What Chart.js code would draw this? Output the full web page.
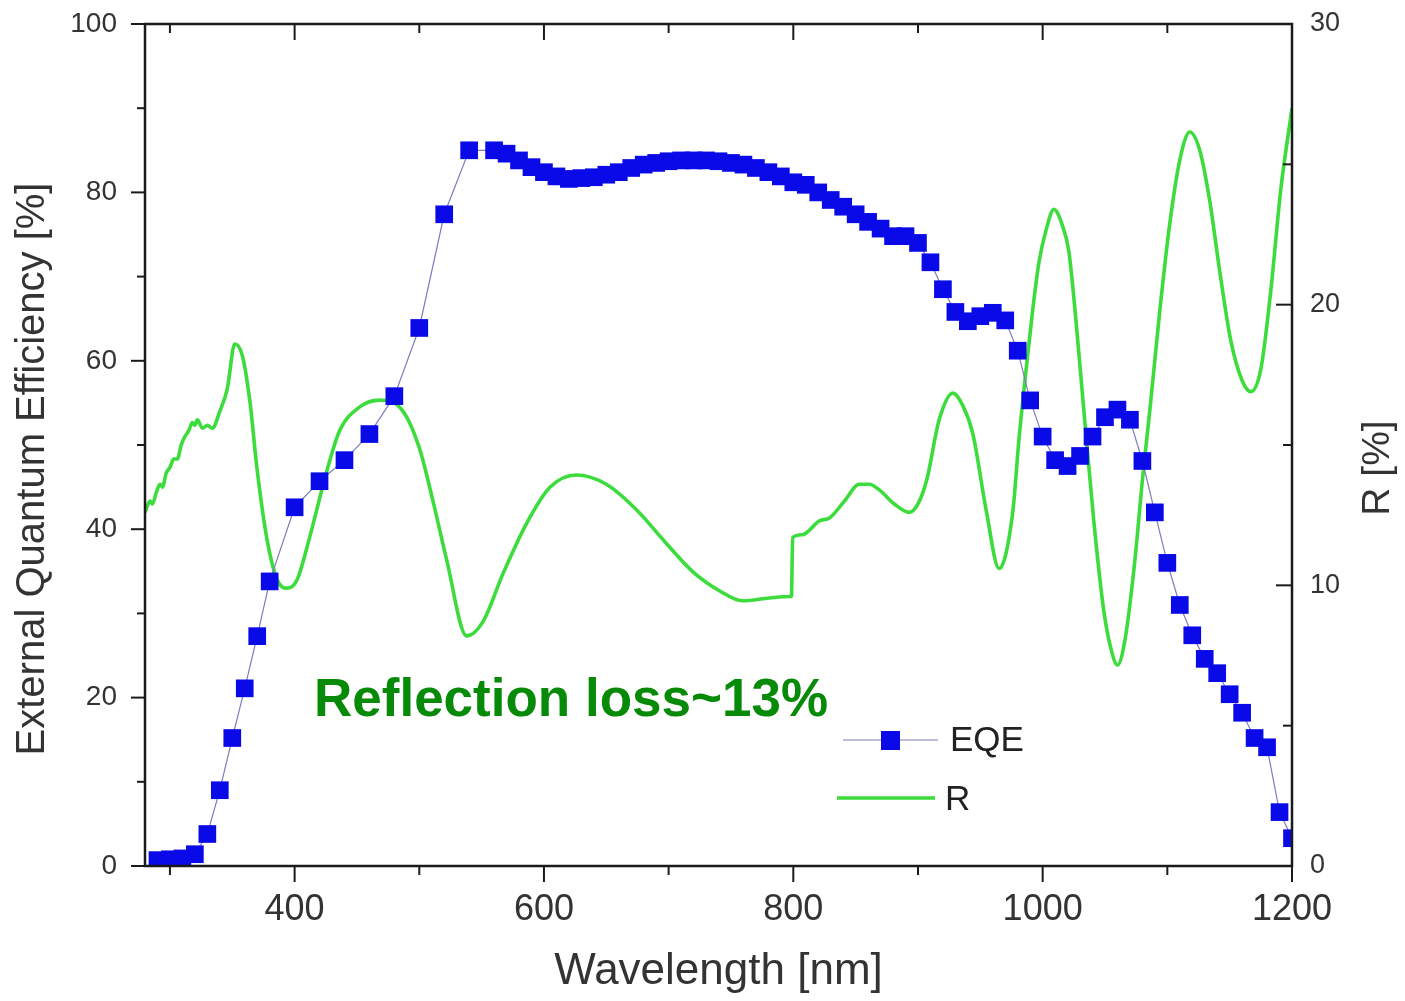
<!DOCTYPE html>
<html>
<head>
<meta charset="utf-8">
<script src="https://cdn.jsdelivr.net/npm/chart.js@4"></script>
<style>
  html, body { margin: 0; padding: 0; background: #fff; }
  #wrap { width: 1405px; height: 1001px; }
</style>
</head>
<body>
<div id="wrap"><canvas id="eqeChart" width="1405" height="1001"></canvas></div>
<script>
// EQE measured points (nm, %)
const eqeWavelength = [290, 300, 310, 320, 330, 340, 350, 360, 370, 380, 400, 420, 440, 460, 480, 500, 520, 540,
  560, 570, 580, 590, 600, 610, 620, 630, 640, 650, 660, 670, 680, 690, 700, 710, 720, 730, 740, 750, 760, 770,
  780, 790, 800, 810, 820, 830, 840, 850, 860, 870, 880, 890, 900, 910, 920, 930, 940, 950, 960, 970, 980, 990,
  1000, 1010, 1020, 1030, 1040, 1050, 1060, 1070, 1080, 1090, 1100, 1110, 1120, 1130, 1140, 1150, 1160, 1170,
  1180, 1190, 1200];
const eqeValues = [0.7, 0.8, 0.9, 1.4, 3.8, 9.0, 15.2, 21.1, 27.3, 33.8, 42.6, 45.7, 48.2, 51.3, 55.8, 63.9, 77.4, 85.0,
  85.0, 84.6, 83.8, 83.0, 82.4, 81.9, 81.6, 81.7, 81.8, 82.1, 82.4, 82.9, 83.3, 83.5, 83.7, 83.8, 83.8, 83.8, 83.7, 83.5, 83.3, 82.9,
  82.4, 81.9, 81.2, 80.9, 80.0, 79.1, 78.3, 77.4, 76.5, 75.7, 74.8, 74.8, 74.0, 71.7, 68.5, 65.8, 64.7, 65.3, 65.7, 64.8, 61.2, 55.3,
  51.0, 48.2, 47.5, 48.7, 51.0, 53.3, 54.2, 53.0, 48.1, 42.0, 36.0, 31.0, 27.4, 24.6, 22.9, 20.4, 18.2, 15.2,
  14.1, 6.4, 3.3];

// reflectance curve (nm, %)
const reflWavelength = [280, 284, 286, 289, 292, 294, 297, 300, 303, 306, 309, 312, 315, 318, 320, 322, 326, 330, 334,
  340, 346, 352, 358, 364, 370, 378, 386, 394, 402, 412, 426, 436, 452, 468, 487, 500, 511, 522, 538, 551, 567, 586,
  605, 626, 650, 674, 698, 719, 741, 759, 781, 797, 798.5, 799.5, 807, 821, 829, 841, 853, 861, 869, 881, 893, 900,
  907, 917, 928, 936, 944, 955, 965, 976, 981, 987, 992, 997, 1003, 1009, 1016, 1021, 1027, 1033, 1041, 1049, 1055,
  1060, 1066, 1074, 1080, 1086, 1094, 1102, 1110, 1118, 1126, 1134, 1142, 1151, 1160, 1167, 1175, 1183, 1191, 1200];
const reflValues = [12.6, 13.0, 12.9, 13.3, 13.6, 13.5, 14.0, 14.2, 14.5, 14.5, 15.0, 15.3, 15.5, 15.8, 15.7, 15.9, 15.6, 15.7, 15.6,
  16.2, 17.0, 18.6, 18.2, 16.6, 14.1, 11.6, 10.2, 9.9, 10.2, 11.7, 14.1, 15.5, 16.35, 16.6, 16.2, 14.9, 13.0, 10.9, 8.2, 8.7, 10.4, 12.2,
  13.5, 13.93, 13.6, 12.7, 11.5, 10.5, 9.8, 9.45, 9.55, 9.6, 9.6, 11.7, 11.8, 12.3, 12.4, 13.0, 13.6, 13.6, 13.4, 12.9, 12.6, 12.9,
  13.75, 15.9, 16.85, 16.4, 15.4, 12.6, 10.6, 12.6, 15.2, 17.8, 19.8, 21.5, 22.7, 23.4, 22.8, 21.9, 19.3, 16.25, 12.3, 9.1, 7.7,
  7.16, 8.05, 10.9, 13.75, 16.25, 19.8, 22.9, 25.15, 26.15, 25.5, 23.7, 21.2, 18.7, 17.3, 16.9, 17.7, 20.5, 24.1, 27.0];

const xTickLabels = [400, 600, 800, 1000, 1200];
const yTickLabels = [0, 20, 40, 60, 80, 100];
const y2TickLabels = [0, 10, 20, 30];

const FONT = "'Liberation Sans', Arial, sans-serif";
const AXIS = '#1a1a1a';
const LABEL = '#333';
const EQE_BLUE = '#0a0ae8';
const EQE_LINE = '#7c7cbc';
const R_GREEN = '#3ddc3d';

function line(ctx, x1, y1, x2, y2) {
  ctx.beginPath();
  ctx.moveTo(x1, y1);
  ctx.lineTo(x2, y2);
  ctx.stroke();
}

// frame, inner/outer ticks, y titles, note and legend
const decorations = {
  id: 'decorations',
  afterDraw(chart) {
    const { ctx, chartArea: a, scales } = chart;
    ctx.save();
    ctx.strokeStyle = AXIS;
    ctx.lineWidth = 2.5;
    ctx.strokeRect(a.left, a.top, a.right - a.left, a.bottom - a.top);

    ctx.lineWidth = 2;
    for (let v = 300; v <= 1200; v += 100) {
      const px = scales.x.getPixelForValue(v);
      const len = v % 200 === 0 ? 16 : 9;
      line(ctx, px, a.bottom, px, a.bottom + len);
      line(ctx, px, a.top, px, a.top + len);
    }
    for (let v = 0; v <= 100; v += 10) {
      const py = scales.y.getPixelForValue(v);
      const len = v % 20 === 0 ? 14 : 8;
      line(ctx, a.left - len, py, a.left, py);
    }
    for (let v = 0; v <= 30; v += 5) {
      const py = scales.y2.getPixelForValue(v);
      const len = v % 10 === 0 ? 16 : 9;
      line(ctx, a.right - len, py, a.right, py);
    }

    // y axis titles (both read bottom to top)
    ctx.fillStyle = LABEL;
    ctx.textAlign = 'center';
    ctx.textBaseline = 'middle';
    ctx.font = '40px ' + FONT;
    ctx.save();
    ctx.translate(33, 469);
    ctx.rotate(-Math.PI / 2);
    ctx.fillText('External Quantum Efficiency [%]', 0, 0);
    ctx.restore();
    ctx.font = '39px ' + FONT;
    ctx.save();
    ctx.translate(1378, 468);
    ctx.rotate(-Math.PI / 2);
    ctx.fillText('R [%]', 0, 0);
    ctx.restore();

    // note
    ctx.fillStyle = '#078a07';
    ctx.font = 'bold 53px ' + FONT;
    ctx.textAlign = 'left';
    ctx.textBaseline = 'alphabetic';
    ctx.fillText('Reflection loss~13%', 314, 716);

    // legend
    ctx.strokeStyle = EQE_LINE;
    ctx.lineWidth = 1.2;
    line(ctx, 843, 740, 938, 740);
    ctx.fillStyle = EQE_BLUE;
    ctx.fillRect(881, 731, 19, 19);
    ctx.strokeStyle = R_GREEN;
    ctx.lineWidth = 3.6;
    line(ctx, 837, 798, 935, 798);
    ctx.fillStyle = '#222';
    ctx.font = '35px ' + FONT;
    ctx.textBaseline = 'middle';
    ctx.fillText('EQE', 950, 741);
    ctx.fillText('R', 945, 800);
    ctx.restore();
  }
};

const noPad = s => { s.paddingTop = 0; s.paddingBottom = 0; s.paddingLeft = 0; s.paddingRight = 0; };

const ctx = document.getElementById('eqeChart').getContext('2d');
new Chart(ctx, {
  type: 'line',
  data: {
    datasets: [{
      label: 'EQE',
      data: eqeWavelength.map((x, i) => ({ x: x, y: eqeValues[i] })),
      yAxisID: 'y',
      borderColor: EQE_LINE,
      borderWidth: 1.2,
      pointStyle: 'rect',
      pointRadius: 12.5,
      pointBackgroundColor: EQE_BLUE,
      pointBorderWidth: 0,
      tension: 0
    }, {
      label: 'R',
      data: reflWavelength.map((x, i) => ({ x: x, y: reflValues[i] })),
      yAxisID: 'y2',
      borderColor: R_GREEN,
      borderWidth: 3.6,
      pointRadius: 0,
      cubicInterpolationMode: 'monotone'
    }]
  },
  options: {
    responsive: false,
    animation: false,
    devicePixelRatio: 1,
    layout: { padding: { top: 24, left: 0, right: 0, bottom: 0 } },
    plugins: { legend: { display: false }, tooltip: { enabled: false } },
    scales: {
      x: {
        type: 'linear',
        min: 280,
        max: 1200,
        afterBuildTicks: s => { s.ticks = xTickLabels.map(v => ({ value: v })); },
        afterFit: s => { s.height = 135; noPad(s); },
        grid: { display: false, drawTicks: false },
        border: { display: false },
        ticks: { color: LABEL, font: { size: 36, family: FONT }, padding: 22, maxRotation: 0, autoSkip: false, callback: v => String(v) },
        title: { display: true, text: 'Wavelength [nm]', color: LABEL, font: { size: 44, family: FONT }, padding: { top: 0, bottom: 3 } }
      },
      y: {
        position: 'left',
        min: 0,
        max: 100,
        afterBuildTicks: s => { s.ticks = yTickLabels.map(v => ({ value: v })); },
        afterFit: s => { s.width = 145; noPad(s); },
        grid: { display: false, drawTicks: false },
        border: { display: false },
        ticks: { color: LABEL, font: { size: 28, family: FONT }, padding: 28, callback: v => String(v) }
      },
      y2: {
        position: 'right',
        min: 0,
        max: 30,
        afterBuildTicks: s => { s.ticks = y2TickLabels.map(v => ({ value: v })); },
        afterFit: s => { s.width = 113; noPad(s); },
        grid: { display: false, drawTicks: false },
        border: { display: false },
        ticks: { color: LABEL, font: { size: 27, family: FONT }, padding: 18, callback: v => String(v) }
      }
    }
  },
  plugins: [decorations]
});
</script>
</body>
</html>
